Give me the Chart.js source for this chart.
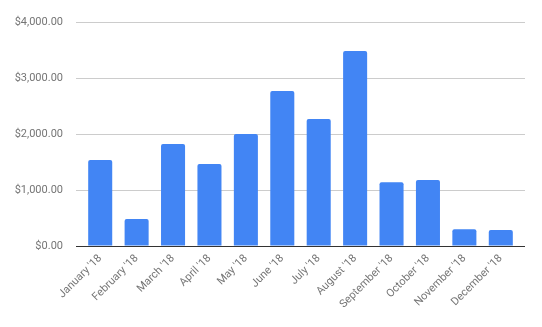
<!DOCTYPE html>
<html>
<head>
<meta charset="utf-8">
<script src="https://cdn.jsdelivr.net/npm/chart.js@4"></script>
<style>
    body { margin: 0; background: #fff; }
    #wrap { width: 542px; height: 327px; }
</style>
</head>
<body>
<div id="wrap"><canvas id="salesChart"></canvas></div>
<script>
const months = ["January '18", "February '18", "March '18", "April '18", "May '18", "June '18",
    "July '18", "August '18", "September '18", "October '18", "November '18", "December '18"];
const amounts = [1535, 480, 1820, 1465, 2000, 2770, 2270, 3480, 1140, 1180, 300, 285];
const yTicks = [0, 1000, 2000, 3000, 4000];

const money = (v) => "$" + v.toLocaleString("en-US", { minimumFractionDigits: 2, maximumFractionDigits: 2 });
const gridColor = (ctx) => (ctx.tick && ctx.tick.value === 0 ? "#333333" : "#cccccc");

new Chart(document.getElementById("salesChart"), {
    type: "bar",
    data: {
        labels: months,
        datasets: [
            {
                data: amounts,
                backgroundColor: "#4285f4",
                borderRadius: 2,
                barPercentage: 0.66,
                categoryPercentage: 1,
            },
        ],
    },
    options: {
        responsive: true,
        maintainAspectRatio: false,
        animation: false,
        layout: { padding: { top: 22, right: 17, bottom: 0, left: 0 } },
        plugins: {
            legend: { display: false },
            tooltip: { enabled: false },
        },
        scales: {
            x: {
                afterFit: (s) => { s.height = 81; },
                grid: { display: false, drawTicks: false },
                border: { display: false },
                ticks: {
                    autoSkip: false,
                    maxRotation: 45,
                    minRotation: 45,
                    padding: 6,
                    color: "#757575",
                    font: { family: "Roboto", size: 11 },
                },
            },
            y: {
                min: yTicks[0],
                max: yTicks[yTicks.length - 1],
                afterBuildTicks: (s) => { s.ticks = yTicks.map((v) => ({ value: v })); },
                afterFit: (s) => { s.width = 82; },
                grid: { color: gridColor, tickLength: 6, lineWidth: 1 },
                border: { display: false },
                ticks: {
                    padding: 13,
                    color: "#757575",
                    font: { family: "Roboto", size: 11 },
                    callback: (v) => money(v),
                },
            },
            y2: {
                position: "right",
                min: yTicks[0],
                max: yTicks[yTicks.length - 1],
                afterBuildTicks: (s) => { s.ticks = yTicks.map((v) => ({ value: v })); },
                afterFit: (s) => { s.width = 6; },
                grid: { color: gridColor, tickLength: 6, drawOnChartArea: false },
                border: { display: false },
                ticks: { padding: 0, callback: () => "" },
            },
        },
    },
});
</script>
</body>
</html>
